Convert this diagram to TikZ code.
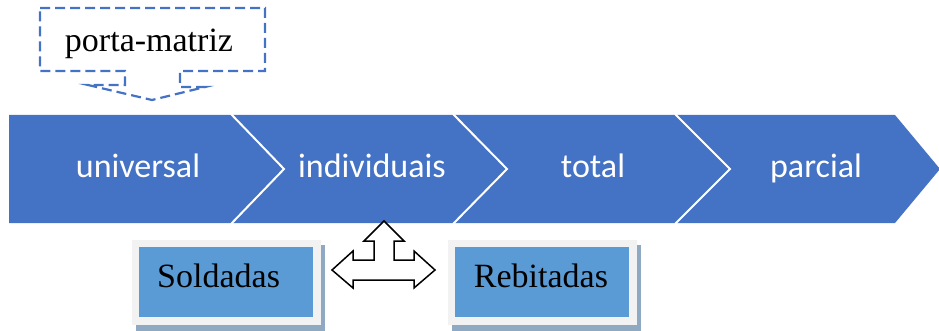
\documentclass[tikz,border=0pt]{standalone}
\usepackage{fontspec}
\setmainfont{Liberation Serif}
\newfontfamily\carlitofont{Carlito}
\definecolor{chev}{HTML}{4472C4}
\definecolor{boxblue}{HTML}{5B9BD5}
\definecolor{framegray}{HTML}{F2F2F2}
\definecolor{shadowc}{HTML}{8FA9C2}
\tikzset{
  chevtext/.style={text=white, font=\carlitofont\fontsize{34}{37}\selectfont, inner sep=0pt, anchor=base},
  serifl/.style={text=black, font=\fontsize{34}{37}\selectfont, inner sep=0pt, anchor=base},
  sep/.style={draw=white, line width=2pt},
  shadowbox/.style={fill=shadowc, draw=none, inner sep=0pt, minimum width=189pt, minimum height=86pt},
  framebox/.style={fill=framegray, draw=none, inner sep=0pt, minimum width=189pt, minimum height=85pt},
  innerbox/.style={fill=boxblue, draw=none, inner sep=0pt, minimum width=174pt, minimum height=70pt},
  callout/.style={draw=chev, line width=2.2pt, dash pattern=on 10pt off 5pt},
  tri/.style={draw=black, fill=white, line width=1.5pt, line join=miter}
}
\begin{document}
\begin{tikzpicture}[x=1pt,y=-1pt]
\useasboundingbox (0,0) rectangle (939,331);
% chevron band
\fill[chev] (9,115) -- (895,115) -- (940,169) -- (895,223) -- (9,223) -- cycle;
\draw[sep] (231,114) -- (284,169) -- (231,224);
\draw[sep] (453,114) -- (507,169) -- (453,224);
\draw[sep] (675,114) -- (730,169) -- (675,224);
\node[chevtext] (univ) at (138,178) {universal};
\node[chevtext] (indiv) at (372,178) {individuais};
\node[chevtext] (tot) at (593,178) {total};
\node[chevtext] (parc) at (816,178) {parcial};
% callout
\draw[callout] (40,8) -- (265,8) -- (265,71) -- (180,71) -- (180,87) -- (205,87)
  -- (152,100) -- (88,85) -- (125,85) -- (125,71) -- (40,71) -- cycle;
\node[serifl] (pm) at (149,52) {porta-matriz};
% boxes
\node[shadowbox] (soldS) at (230,288) {};
\node[framebox] (soldF) at (226.5,282.5) {};
\node[innerbox] (sold) at (226,282) {};
\node[serifl, anchor=base west] (soldT) at (157,287) {Soldadas};
\node[shadowbox] (rebS) at (546,288) {};
\node[framebox] (rebF) at (542,282.5) {};
\node[innerbox] (reb) at (542,282) {};
\node[serifl] (rebT) at (541,287) {Rebitadas};
% three-way arrow
\draw[tri] (332,270) -- (353,251) -- (353,260) -- (374,260) -- (374,241) -- (364,241)
  -- (384,221) -- (404,241) -- (394,241) -- (394,260) -- (414,260) -- (414,251)
  -- (435,270) -- (414,288) -- (414,280) -- (353,280) -- (353,288) -- cycle;
\end{tikzpicture}
\end{document}
